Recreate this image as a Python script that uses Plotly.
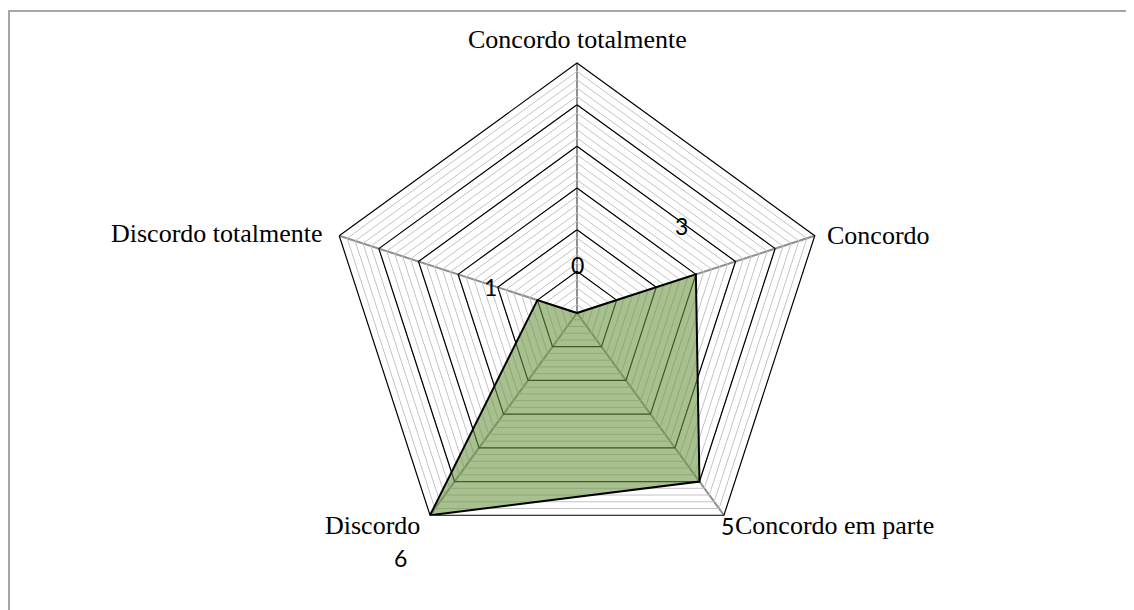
import math
import plotly.graph_objects as go

# ---- data ----
categories = ["Concordo totalmente", "Concordo", "Concordo em parte", "Discordo", "Discordo totalmente"]
values = [0, 3, 5, 6, 1]
radial_max = 6
major_levels = [1, 2, 3, 4, 5]
minor_step = 0.2

# ---- styles (pixel offsets only) ----
# data label offsets from the data point: (dx right, dy up)
label_offsets = [(0, 48), (-14, 48), (28, -44), (-30, -43), (-47, 13)]
# category label placement relative to its vertex: (xanchor, dx, dy)
cat_style = [("center", 0, 23), ("left", 10, 0), ("left", 9, -10), ("right", -8, -10), ("right", -14, 2)]

# ---- layout geometry ----
W, H = 1134, 610
cx, cy, R = 569, 305, 250
domain_x = [(cx - R) / W, (cx + R) / W]
domain_y = [(H - cy - R) / H, (H - cy + R) / H]

n = len(categories)


def to_paper(v, k):
    ang = math.radians(90 - 360 * k / n)
    px = cx + (v / radial_max) * R * math.cos(ang)
    py = (H - cy) + (v / radial_max) * R * math.sin(ang)
    return px / W, py / H


fig = go.Figure()
theta_closed = categories + [categories[0]]

# major (black) gridlines
for lv in major_levels:
    fig.add_trace(go.Scatterpolar(
        r=[lv] * (n + 1), theta=theta_closed, mode="lines",
        line=dict(color="black", width=1.2), hoverinfo="skip", showlegend=False))

# data series
fig.add_trace(go.Scatterpolar(
    r=values + [values[0]], theta=theta_closed, mode="lines",
    fill="toself", fillcolor="rgba(110,150,70,0.60)",
    line=dict(color="black", width=2), showlegend=False, name="Série"))

# data labels
for k, (v, (dx, dy)) in enumerate(zip(values, label_offsets)):
    x, y = to_paper(v, k)
    fig.add_annotation(x=x, y=y, xref="paper", yref="paper",
                       text=str(v), showarrow=False, xanchor="center", yanchor="middle",
                       xshift=dx, yshift=dy,
                       font=dict(family="Lato, Open Sans, sans-serif", size=23, color="black"))

# category labels
for k, (cat, (xa, dx, dy)) in enumerate(zip(categories, cat_style)):
    x, y = to_paper(radial_max, k)
    fig.add_annotation(x=x, y=y, xref="paper", yref="paper",
                       text=cat, showarrow=False, xanchor=xa, yanchor="middle",
                       xshift=dx, yshift=dy,
                       font=dict(family="Liberation Serif, Times New Roman, serif", size=26, color="black"))

fig.update_layout(
    width=W, height=H,
    margin=dict(l=0, r=0, t=0, b=0),
    paper_bgcolor="white",
    showlegend=False,
    polar=dict(
        domain=dict(x=domain_x, y=domain_y),
        gridshape="linear",
        bgcolor="white",
        radialaxis=dict(range=[0, radial_max], tickmode="linear", tick0=0, dtick=minor_step,
                        showticklabels=False, ticks="", showline=False,
                        gridcolor="#c4c4c4", gridwidth=1),
        angularaxis=dict(type="category", direction="clockwise", rotation=90,
                         showline=True, linecolor="black", linewidth=1.2,
                         showgrid=True, gridcolor="#8f8f8f", gridwidth=1.5, ticks="",
                         showticklabels=False),
    ),
    shapes=[
        dict(type="rect", xref="paper", yref="paper", x0=1 / W, y0=0.5 / H, x1=1 - 0.5 / W, y1=1 - 3 / H,
             line=dict(color="#a6a6a6", width=2), fillcolor="rgba(0,0,0,0)"),
    ],
)

fig.write_html("out.html")
